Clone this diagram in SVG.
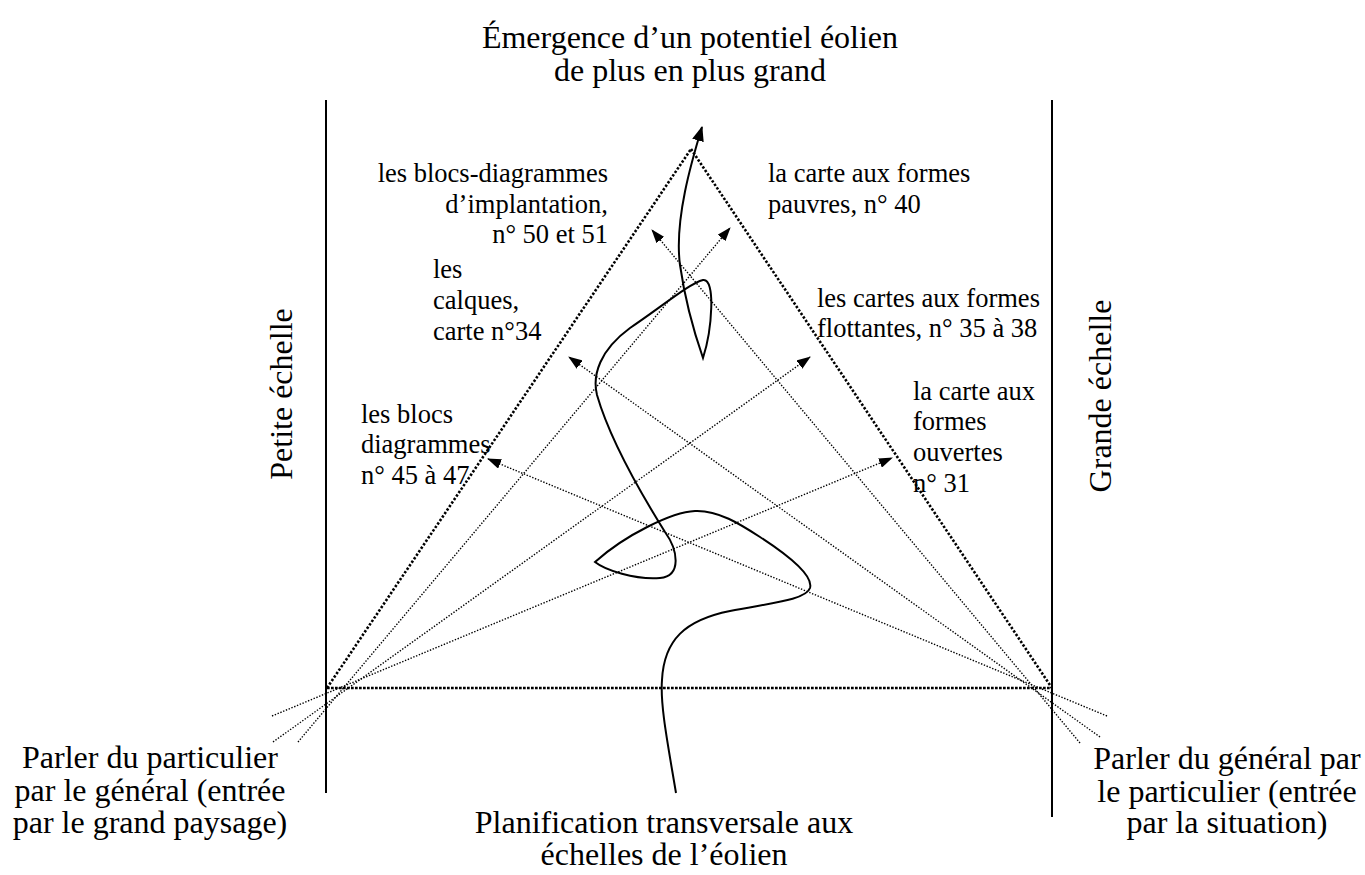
<svg xmlns="http://www.w3.org/2000/svg" width="1365" height="875" viewBox="0 0 1365 875">
<style>
text{font-family:"Liberation Serif","Times New Roman",serif;fill:#000}
.big{font-size:32px}
.lab{font-size:26.5px}
.mid{text-anchor:middle}
.end{text-anchor:end}
.axis{stroke:#000;stroke-width:2;fill:none}
.edge{stroke:#000;stroke-width:2.6;stroke-dasharray:2.4 1.8;fill:none}
.base{stroke:#000;stroke-width:2.7;stroke-dasharray:2.7 1.3;fill:none}
.ray{stroke:#000;stroke-width:1.4;stroke-dasharray:1.4 1.6;fill:none;marker-end:url(#arr)}
.path{stroke:#000;stroke-width:2;fill:none;marker-end:url(#arrBig)}
</style>
<defs>
<marker id="arr" viewBox="0 0 14 10" refX="13" refY="5" markerWidth="14" markerHeight="10" markerUnits="userSpaceOnUse" orient="auto"><path d="M0,0 L14,5 L0,10 z" fill="#000"/></marker>
<marker id="arrBig" viewBox="0 0 15 12" refX="14" refY="6" markerWidth="15" markerHeight="12" markerUnits="userSpaceOnUse" orient="auto"><path d="M0,0 L15,6 L0,12 z" fill="#000"/></marker>
</defs>
<rect width="1365" height="875" fill="#fff"/>

<g id="axes">
<line class="axis" x1="326" y1="100" x2="326" y2="793"/>
<line class="axis" x1="1052" y1="100" x2="1052" y2="817"/>
</g>

<g id="triangle">
<line class="edge" x1="327" y1="688" x2="691" y2="149"/>
<line class="edge" x1="691" y1="149" x2="1052" y2="688"/>
<line class="base" x1="327" y1="688" x2="1052" y2="688"/>
</g>

<g id="connectors">
<line class="ray" x1="272" y1="716" x2="892" y2="458"/>
<line class="ray" x1="273" y1="742" x2="810" y2="357"/>
<line class="ray" x1="298" y1="742" x2="730" y2="228"/>
<line class="ray" x1="1107" y1="716" x2="488" y2="459"/>
<line class="ray" x1="1100" y1="737" x2="569" y2="357"/>
<line class="ray" x1="1080" y1="743" x2="652" y2="230"/>
<path class="path" d="M676,793 C668,745 660,705 662,680 C664,640 685,620 730,611 C770,603 806,600 810,588 C814,574 780,550 760,537 C740,524 718,510 695,511 C672,512 625,535 595,562 C605,570 635,580 660,578 C682,576 678,550 665,532 C645,500 610,440 597,395 C592,375 600,350 630,328 C660,308 690,283 703,280 C716,278 712,330 703,358 C695,335 685,300 680,265 C674,220 692,160 702,127"/>
</g>

<g id="title">
<text class="big mid" x="690" y="48">Émergence d’un potentiel éolien</text>
<text class="big mid" x="690" y="81">de plus en plus grand</text>
</g>
<g id="bottom-title">
<text class="big mid" x="664" y="833">Planification transversale aux</text>
<text class="big mid" x="664" y="865">échelles de l’éolien</text>
</g>
<g id="left-corner">
<text class="big mid" x="150" y="768">Parler du particulier</text>
<text class="big mid" x="150" y="801">par le général (entrée</text>
<text class="big mid" x="150" y="833">par le grand paysage)</text>
</g>
<g id="right-corner">
<text class="big mid" x="1227" y="769">Parler du général par</text>
<text class="big mid" x="1227" y="802">le particulier (entrée</text>
<text class="big mid" x="1227" y="833">par la situation)</text>
</g>
<g id="petite">
<text class="big mid" transform="translate(292,394) rotate(-90)">Petite échelle</text>
</g>
<g id="grande">
<text class="big mid" transform="translate(1111,396) rotate(-90)">Grande échelle</text>
</g>

<g id="label-implantation">
<text class="lab end" x="608" y="182">les blocs-diagrammes</text>
<text class="lab end" x="608" y="213">d’implantation,</text>
<text class="lab end" x="608" y="243">n° 50 et 51</text>
</g>
<g id="label-calques">
<text class="lab" x="433" y="278">les</text>
<text class="lab" x="433" y="309">calques,</text>
<text class="lab" x="433" y="340">carte n°34</text>
</g>
<g id="label-blocs">
<text class="lab" x="361" y="423">les blocs</text>
<text class="lab" x="361" y="453">diagrammes</text>
<text class="lab" x="361" y="484">n° 45 à 47</text>
</g>
<g id="label-pauvres">
<text class="lab" x="768" y="182">la carte aux formes</text>
<text class="lab" x="768" y="213">pauvres, n° 40</text>
</g>
<g id="label-flottantes">
<text class="lab" x="817" y="307">les cartes aux formes</text>
<text class="lab" x="817" y="337">flottantes, n° 35 à 38</text>
</g>
<g id="label-ouvertes">
<text class="lab" x="913" y="400">la carte aux</text>
<text class="lab" x="913" y="430">formes</text>
<text class="lab" x="913" y="461">ouvertes</text>
<text class="lab" x="913" y="492">n° 31</text>
</g>
</svg>
